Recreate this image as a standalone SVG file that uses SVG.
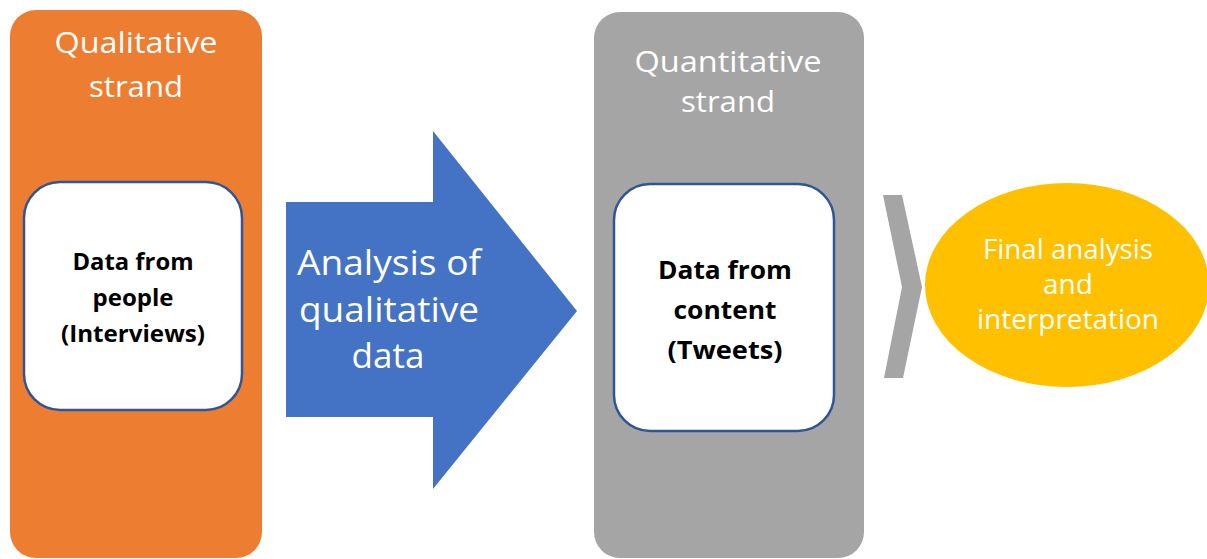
<svg xmlns="http://www.w3.org/2000/svg" width="1207" height="559" viewBox="0 0 1207 559">
<style>
.t{font-family:"Open Sans","Liberation Sans",sans-serif;fill:#fff;text-anchor:middle}
.b{font-family:"Open Sans","Liberation Sans",sans-serif;font-weight:bold;fill:#000;text-anchor:middle}
.inner{fill:#fff;stroke:#2F5597;stroke-width:2.5}
</style>
<rect width="1207" height="559" fill="#fff"/>
<g id="qualitative-strand">
<rect x="10" y="10" width="252" height="548" rx="26" fill="#ED7D31"/>
<text class="t" font-size="30"><tspan x="136" y="53" textLength="163" lengthAdjust="spacingAndGlyphs">Qualitative</tspan><tspan x="136" y="97" textLength="94" lengthAdjust="spacingAndGlyphs">strand</tspan></text>
</g>
<g id="data-people">
<rect class="inner" x="24" y="182" width="218" height="228" rx="36"/>
<text class="b" font-size="24"><tspan x="133" y="270" textLength="121" lengthAdjust="spacingAndGlyphs">Data from</tspan><tspan x="133" y="306" textLength="81" lengthAdjust="spacingAndGlyphs">people</tspan><tspan x="133" y="342" textLength="144" lengthAdjust="spacingAndGlyphs">(Interviews)</tspan></text>
</g>
<g id="analysis-arrow">
<polygon points="286,202 433,202 433,131 577,311 433,489 433,417 286,417" fill="#4472C4"/>
<text class="t" font-size="35"><tspan x="389" y="275" textLength="184" lengthAdjust="spacingAndGlyphs">Analysis of</tspan><tspan x="389" y="322" textLength="180" lengthAdjust="spacingAndGlyphs">qualitative</tspan><tspan x="388" y="368">data</tspan></text>
</g>
<g id="quantitative-strand">
<rect x="594" y="12" width="270" height="546" rx="26" fill="#A5A5A5"/>
<text class="t" font-size="30"><tspan x="728" y="72" textLength="187" lengthAdjust="spacingAndGlyphs">Quantitative</tspan><tspan x="728" y="112" textLength="94" lengthAdjust="spacingAndGlyphs">strand</tspan></text>
</g>
<g id="data-content">
<rect class="inner" x="614" y="184" width="220" height="247" rx="36"/>
<text class="b" font-size="25"><tspan x="725" y="279" textLength="134" lengthAdjust="spacingAndGlyphs">Data from</tspan><tspan x="725" y="319" textLength="103" lengthAdjust="spacingAndGlyphs">content</tspan><tspan x="725" y="359" textLength="115" lengthAdjust="spacingAndGlyphs">(Tweets)</tspan></text>
</g>
<g id="connectors">
<polygon points="883,195 902,195 922,287 903,378 884,378 902,287" fill="#A5A5A5"/>
</g>
<g id="final-analysis">
<ellipse cx="1067" cy="285" rx="142" ry="102" fill="#FFC000"/>
<text class="t" font-size="28"><tspan x="1068" y="259" textLength="170" lengthAdjust="spacingAndGlyphs">Final analysis</tspan><tspan x="1068" y="294">and</tspan><tspan x="1068" y="329" textLength="182" lengthAdjust="spacingAndGlyphs">interpretation</tspan></text>
</g>
</svg>
